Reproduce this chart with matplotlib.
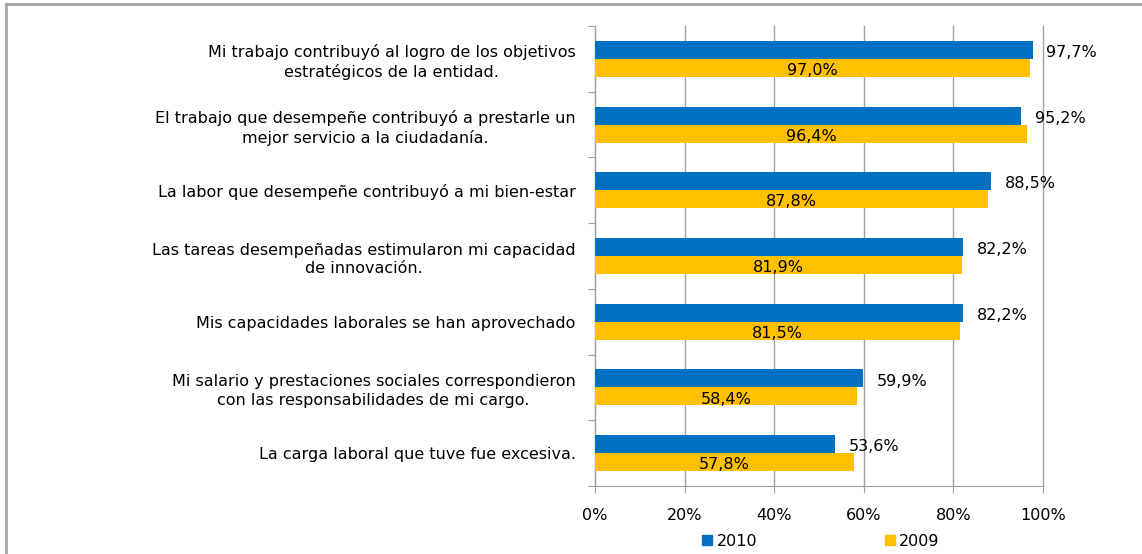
import matplotlib
matplotlib.use("Agg")
import matplotlib.pyplot as plt
from matplotlib.lines import Line2D

plt.rcParams['font.family'] = ['DejaVu Sans']

categories = [
    "Mi trabajo contribuyó al logro de los objetivos\nestratégicos de la entidad.",
    "El trabajo que desempeñe contribuyó a prestarle un\nmejor servicio a la ciudadanía.",
    "La labor que desempeñe contribuyó a mi bien-estar",
    "Las tareas desempeñadas estimularon mi capacidad\nde innovación.",
    "Mis capacidades laborales se han aprovechado",
    "Mi salario y prestaciones sociales correspondieron\ncon las responsabilidades de mi cargo.",
    "La carga laboral que tuve fue excesiva.",
]
vals_2010 = [97.7, 95.2, 88.5, 82.2, 82.2, 59.9, 53.6]
vals_2009 = [97.0, 96.4, 87.8, 81.9, 81.5, 58.4, 57.8]
xticks = [0, 20, 40, 60, 80, 100]

blue = '#0070C0'
yellow = '#FFC000'
grid_c = '#A0A0A0'

fig = plt.figure(figsize=(11.42, 5.54), dpi=100)
ax = fig.add_axes([595/1142, 1 - 486/554, 448/1142, 460/554])

h = 0.274
ypos = list(range(len(categories)))
y10 = [y - h/2 for y in ypos]
y09 = [y + h/2 for y in ypos]
ax.barh(y10, vals_2010, height=h, color=blue, zorder=3)
ax.barh(y09, vals_2009, height=h, color=yellow, zorder=3)

fs = 11.5
for y, v in zip(y10, vals_2010):
    ax.text(v + 3, y + 0.04, f"{v:.1f}%".replace('.', ','), va='center', ha='left',
            fontsize=fs, zorder=4)
for y, v in zip(y09, vals_2009):
    ax.text(v / 2, y + 0.04, f"{v:.1f}%".replace('.', ','), va='center', ha='center',
            fontsize=fs, zorder=4)

ax.set_xlim(0, 100)
ax.set_ylim(len(categories) - 0.5, -0.5)
ax.set_xticks(xticks)
ax.set_xticklabels([f"{t}%" for t in xticks], fontsize=fs)
ax.set_yticks([y - 0.5 for y in ypos] + [len(categories) - 0.5])
ax.set_yticklabels([])
ax.set_yticks(ypos, minor=True)
ax.set_yticklabels(categories, minor=True, fontsize=fs, multialignment='center',
                   linespacing=1.3)
ax.tick_params(axis='y', which='minor', length=0, pad=14)
ax.tick_params(axis='y', which='major', length=5, color=grid_c)
ax.tick_params(axis='x', length=5, color=grid_c, pad=11)

ax.grid(axis='x', color=grid_c, lw=1, zorder=0)
for gl in ax.get_xgridlines():
    gl.set_clip_on(False)
for s in ['top', 'right']:
    ax.spines[s].set_visible(False)
for s in ['left', 'bottom']:
    ax.spines[s].set_color(grid_c)

handles = [plt.Rectangle((0, 0), 1, 1, color=blue), plt.Rectangle((0, 0), 1, 1, color=yellow)]
fig.legend(handles, ['2010', '2009'], loc='center', bbox_to_anchor=(821/1142, 1 - 541/554),
           ncol=2, frameon=False, fontsize=fs, handlelength=0.6, handleheight=0.6,
           handletextpad=0.3, columnspacing=8)

# outer frame of the cropped chart
fig.add_artist(Line2D([6/1142, 1], [1 - 4/554, 1 - 4/554], color='#A6A6A6', lw=2))
fig.add_artist(Line2D([6/1142, 6/1142], [0, 1 - 4/554], color='#A6A6A6', lw=2))

fig.savefig('out.png', dpi=100)
